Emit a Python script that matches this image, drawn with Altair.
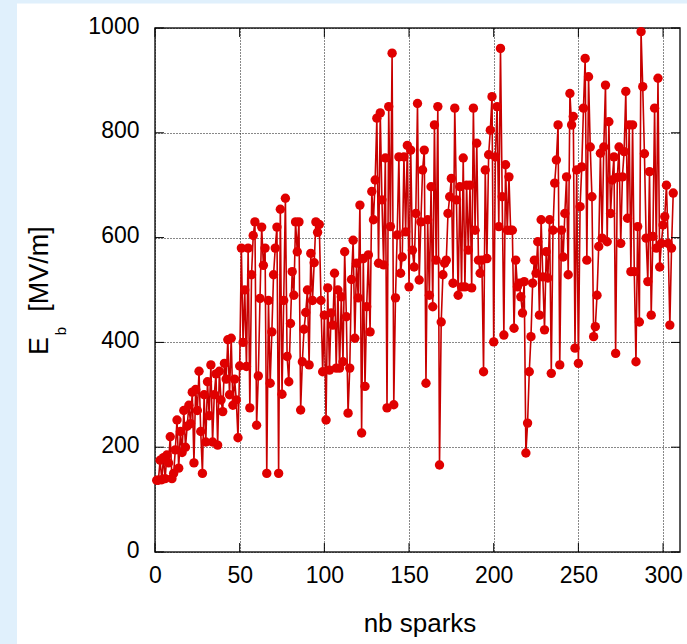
import altair as alt
import pandas as pd

# Breakdown field E_b [MV/m] per spark
eb_values = [
    137, 137, 175, 138, 180, 140, 185, 170, 220, 140,
    150, 195, 252, 160, 230, 190, 270, 200, 240, 280,
    245, 305, 170, 310, 270, 345, 230, 150, 300, 210,
    325, 260, 357, 210, 300, 340, 204, 345, 290, 268,
    360, 330, 405, 300, 408, 280, 330, 290, 218, 355,
    580, 400, 500, 354, 580, 275, 529, 604, 630, 242,
    336, 484, 620, 547, 580, 150, 480, 322, 420, 529,
    580, 620, 150, 654, 301, 480, 675, 373, 325, 436,
    535, 490, 630, 573, 630, 271, 363, 425, 457, 500,
    357, 570, 480, 552, 630, 610, 625, 480, 344, 452,
    252, 504, 347, 456, 433, 532, 351, 500, 351, 487,
    363, 573, 449, 265, 351, 520, 595, 408, 551, 485,
    662, 227, 560, 316, 468, 567, 420, 688, 634, 710,
    828, 551, 838, 672, 548, 752, 275, 850, 621, 952,
    281, 485, 605, 754, 532, 563, 754, 611, 776, 506,
    767, 576, 544, 646, 856, 519, 630, 729, 767, 322,
    634, 490, 697, 468, 815, 557, 850, 166, 439, 529,
    551, 557, 646, 678, 713, 513, 847, 672, 490, 697,
    506, 752, 506, 700, 576, 700, 504, 847, 614, 780,
    557, 532, 557, 344, 729, 560, 758, 805, 869, 401,
    754, 850, 621, 961, 678, 414, 739, 614, 716, 614,
    614, 427, 557, 506, 513, 487, 456, 516, 189, 246,
    344, 411, 513, 557, 532, 592, 452, 634, 525, 424,
    573, 523, 634, 341, 614, 704, 748, 815, 357, 614,
    563, 646, 716, 529, 875, 815, 831, 389, 729, 360,
    659, 735, 847, 942, 557, 907, 773, 678, 411, 430,
    490, 583, 761, 599, 773, 891, 592, 821, 646, 710,
    754, 379, 715, 773, 589, 716, 764, 879, 637, 815,
    535, 815, 535, 363, 621, 439, 993, 888, 760, 599,
    516, 726, 452, 602, 847, 580, 904, 544, 589, 624,
    640, 700, 589, 433, 580, 685,
]
spark_numbers = list(range(1, len(eb_values) + 1))
x_tick_values = [0, 50, 100, 150, 200, 250, 300]
y_tick_values = [0, 200, 400, 600, 800, 1000]

W, H = 525, 524
FONT = "Liberation Sans"

df = pd.DataFrame({"n": spark_numbers, "eb": eb_values})
xt = pd.DataFrame({"n": x_tick_values})
yt = pd.DataFrame({"eb": y_tick_values})
one = pd.DataFrame({"k": [0]})

xs = alt.Scale(domain=[0, 310], nice=False, zero=False)
ys = alt.Scale(domain=[0, 1000], nice=False)

x_axis = alt.Axis(values=x_tick_values, title=None, grid=True, gridDash=[1, 2],
                  gridColor="#111", gridOpacity=1, gridWidth=1, ticks=False,
                  domain=False, labelFont=FONT, labelFontSize=23, labelColor="#000",
                  labelPadding=12, labelFlush=False, format="d")
y_axis = alt.Axis(values=y_tick_values, title=None, grid=True, gridDash=[1, 2],
                  gridColor="#111", gridOpacity=1, gridWidth=1, ticks=False,
                  domain=False, labelFont=FONT, labelFontSize=23, labelColor="#000",
                  labelPadding=16, labelFlush=False, labelOffset=-2, format="d")

x_enc = alt.X("n:Q", scale=xs, axis=x_axis)
y_enc = alt.Y("eb:Q", scale=ys, axis=y_axis)

strip_left = alt.Chart(one).mark_rect(color="#e0f0fc").encode(
    x=alt.value(-155), x2=alt.value(-138), y=alt.value(-28), y2=alt.value(616))
strip_top = alt.Chart(one).mark_rect(color="#e0f0fc").encode(
    x=alt.value(-155), x2=alt.value(532), y=alt.value(-28), y2=alt.value(-24.6))

line = alt.Chart(df).mark_line(color="#c80000", strokeWidth=1.6).encode(x=x_enc, y=y_enc)
pts = alt.Chart(df).mark_circle(size=88, color="#e00000", opacity=1).encode(x=x_enc, y=y_enc)

tk = dict(color="#000", strokeWidth=1)
t_left = alt.Chart(yt).mark_rule(**tk).encode(y=y_enc, x=alt.value(0), x2=alt.value(9))
t_right = alt.Chart(yt).mark_rule(**tk).encode(y=y_enc, x=alt.value(W), x2=alt.value(W - 9))
t_bottom = alt.Chart(xt).mark_rule(**tk).encode(x=x_enc, y=alt.value(H), y2=alt.value(H - 9))
t_top = alt.Chart(xt).mark_rule(**tk).encode(x=x_enc, y=alt.value(0), y2=alt.value(9))

title_x = alt.Chart(one).mark_text(text="nb sparks", font=FONT, fontSize=26, color="#000",
                                   align="center", baseline="alphabetic").encode(
    x=alt.value(265), y=alt.value(604))
title_E = alt.Chart(one).mark_text(text="E", font=FONT, fontSize=27, color="#000", angle=270,
                                   align="center", baseline="middle").encode(
    x=alt.value(-115), y=alt.value(318))
title_b = alt.Chart(one).mark_text(text="b", font=FONT, fontSize=15, color="#000", angle=270,
                                   align="center", baseline="middle").encode(
    x=alt.value(-94), y=alt.value(303))
title_unit = alt.Chart(one).mark_text(text="[MV/m]", font=FONT, fontSize=27, color="#000", angle=270,
                                      align="center", baseline="middle").encode(
    x=alt.value(-115), y=alt.value(241))

chart = alt.layer(
    strip_left, strip_top, line, pts, t_left, t_right, t_bottom, t_top,
    title_x, title_E, title_b, title_unit
).properties(
    width=W, height=H,
    padding={"left": 155, "top": 28, "right": 7, "bottom": 92},
    autosize=alt.AutoSizeParams(type="none"),
    background="#ffffff",
).configure_view(stroke="#222", strokeWidth=1.5)

chart.save("out.html", embed_options={"renderer": "svg", "actions": False})
